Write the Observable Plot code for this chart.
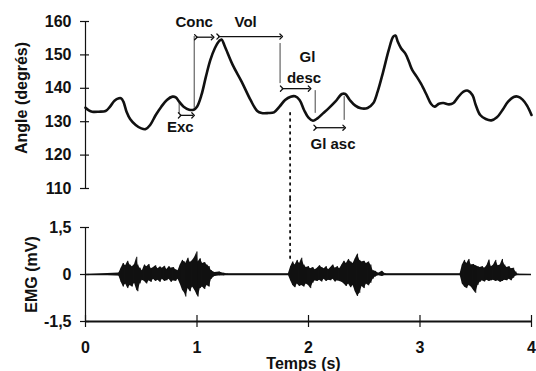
<!DOCTYPE html>
<html><head><meta charset="utf-8">
<script src="https://cdn.jsdelivr.net/npm/d3@7"></script>
<script src="https://cdn.jsdelivr.net/npm/@observablehq/plot@0.6"></script>
<style>
body{margin:0;background:#fff;}
#chart svg{display:block;}
</style></head><body><div id="chart"></div>
<script>
// Angle trace
const time = [0.00,0.03,0.06,0.12,0.18,0.22,0.26,0.30,0.32,0.34,0.37,0.40,0.45,0.50,0.54,0.58,0.63,0.68,0.73,0.78,0.81,0.84,0.88,0.93,0.97,1.00,1.04,1.08,1.12,1.16,1.20,1.22,1.25,1.32,1.40,1.48,1.54,1.58,1.64,1.69,1.74,1.79,1.84,1.88,1.92,1.96,2.00,2.04,2.08,2.13,2.18,2.24,2.30,2.33,2.37,2.42,2.47,2.53,2.58,2.62,2.67,2.72,2.76,2.78,2.80,2.83,2.87,2.90,2.93,2.97,3.01,3.06,3.10,3.13,3.17,3.21,3.26,3.30,3.34,3.39,3.43,3.47,3.50,3.54,3.59,3.64,3.69,3.74,3.79,3.84,3.88,3.92,3.96,4.00];
const angle = [134.2,133.4,133.0,133.0,133.2,134.5,136.3,137.0,137.0,136.0,132.8,130.8,129.0,128.0,127.8,129.0,132.0,134.5,136.5,137.5,137.3,136.0,134.5,133.6,133.6,134.5,138.0,143.5,148.5,152.0,154.2,154.6,152.5,147.0,142.0,136.5,133.2,132.6,132.6,132.8,134.5,136.5,137.5,137.6,136.5,133.5,131.2,130.3,131.0,132.5,134.0,136.0,138.3,138.3,136.5,134.8,134.0,134.1,135.5,139.0,145.0,151.5,155.5,155.8,154.0,152.0,150.3,148.0,145.5,143.5,141.3,138.0,135.3,134.5,135.4,135.6,135.2,135.6,137.3,139.0,139.3,138.0,135.0,132.0,130.8,130.4,131.3,133.5,136.0,137.4,137.5,136.6,134.8,132.0];

// EMG envelope (upper / lower extent of the raw signal)
const emgTime = [0.00,0.30,0.32,0.34,0.36,0.38,0.40,0.42,0.44,0.46,0.47,0.49,0.51,0.53,0.55,0.57,0.59,0.61,0.63,0.65,0.67,0.69,0.71,0.73,0.75,0.77,0.79,0.81,0.83,0.85,0.87,0.89,0.90,0.92,0.94,0.96,0.98,1.00,1.01,1.03,1.05,1.07,1.09,1.11,1.13,1.16,1.20,1.24,1.27,
 1.82,1.84,1.86,1.88,1.90,1.92,1.94,1.96,1.98,2.00,2.02,2.04,2.06,2.08,2.10,2.12,2.14,2.16,2.18,2.20,2.22,2.24,2.26,2.28,2.30,2.32,2.34,2.36,2.38,2.40,2.42,2.44,2.46,2.48,2.50,2.52,2.54,2.56,2.58,2.60,2.63,2.66,2.69,
 3.36,3.38,3.40,3.42,3.44,3.46,3.48,3.50,3.52,3.54,3.56,3.58,3.60,3.62,3.64,3.66,3.68,3.70,3.72,3.74,3.76,3.78,3.80,3.82,3.84,3.86,3.88,4.00];
const emgHigh = [0,0.05,0.20,0.35,0.28,0.42,0.30,0.25,0.32,0.55,0.30,0.20,0.12,0.30,0.25,0.32,0.18,0.22,0.28,0.18,0.24,0.20,0.26,0.16,0.25,0.20,0.22,0.15,0.12,0.30,0.45,0.40,0.35,0.52,0.38,0.45,0.55,0.72,0.40,0.50,0.35,0.38,0.30,0.25,0.12,0.06,0.08,0.04,0.02,
 0.02,0.25,0.40,0.30,0.45,0.35,0.52,0.30,0.22,0.25,0.18,0.22,0.15,0.20,0.28,0.22,0.18,0.25,0.15,0.22,0.30,0.20,0.25,0.18,0.30,0.42,0.35,0.48,0.40,0.35,0.50,0.65,0.45,0.40,0.42,0.35,0.40,0.30,0.12,0.10,0.04,0.10,0.02,
 0.02,0.30,0.45,0.35,0.48,0.30,0.32,0.28,0.25,0.22,0.25,0.20,0.28,0.46,0.25,0.30,0.45,0.28,0.30,0.48,0.30,0.22,0.25,0.18,0.20,0.08,0.01,0];
const emgLow = [0,-0.05,-0.25,-0.40,-0.30,-0.45,-0.35,-0.40,-0.28,-0.50,-0.55,-0.30,-0.18,-0.22,-0.30,-0.20,-0.25,-0.15,-0.22,-0.18,-0.25,-0.15,-0.22,-0.20,-0.15,-0.25,-0.20,-0.22,-0.15,-0.30,-0.50,-0.60,-0.72,-0.45,-0.55,-0.40,-0.50,-0.65,-0.72,-0.45,-0.40,-0.48,-0.35,-0.40,-0.15,-0.06,-0.04,-0.04,-0.02,
 -0.02,-0.20,-0.35,-0.42,-0.30,-0.38,-0.35,-0.40,-0.30,-0.35,-0.45,-0.28,-0.20,-0.22,-0.18,-0.24,-0.15,-0.22,-0.18,-0.20,-0.15,-0.24,-0.20,-0.22,-0.25,-0.30,-0.38,-0.30,-0.42,-0.35,-0.55,-0.70,-0.60,-0.38,-0.45,-0.30,-0.36,-0.28,-0.15,-0.08,-0.03,-0.06,-0.02,
 -0.02,-0.30,-0.40,-0.45,-0.35,-0.40,-0.50,-0.60,-0.35,-0.25,-0.20,-0.24,-0.18,-0.22,-0.20,-0.18,-0.22,-0.20,-0.25,-0.22,-0.18,-0.20,-0.15,-0.20,-0.12,-0.05,-0.01,0];

// Axis ticks
const angleTicks = [110,120,130,140,150,160];
const emgTicks = [-1.5,0,1.5];
const emgTickLabels = ["-1,5","0","1,5"];
const timeTicks = [0,1,2,3,4];

// Phase annotations
const labelText = ["Conc","Vol","Gl","desc","Exc","Gl asc"];
const labelTime = [0.975,1.436,1.99,1.96,0.85,2.22];
const labelAngle = [159.9,159.7,149.2,143.1,128.3,123.2];
const arrowStart = [0.845,0.99,1.19,1.76,2.06];
const arrowEnd = [0.965,1.14,1.755,2.01,2.32];
const arrowAngle = [131.9,155.3,155.5,139.9,128.2];
const markTime = [0.84,0.975,1.745,2.06,2.32];
const markLow = [132.3,134.0,141.4,132.5,130.4];
const markHigh = [135.5,155.5,153.4,139.3,137.5];
const syncTime = [1.835];
const syncAngle = [132.5, 106];
const syncEmg = [2.4, 0.4];

const font = "'Liberation Sans', Arial, sans-serif";
const ink = "#111";

const angleData = time.map((t,i)=>({t, a: angle[i]}));
const emgData = emgTime.map((t,i)=>({t, hi: emgHigh[i], lo: emgLow[i]}));
const labels = labelText.map((s,i)=>({s, t: labelTime[i], a: labelAngle[i]}));
const arrows = arrowStart.map((t,i)=>({t1: t, t2: arrowEnd[i], a: arrowAngle[i]}));
const marks = markTime.map((t,i)=>({t, lo: markLow[i], hi: markHigh[i]}));

const common = {
  width: 536, marginLeft: 85, marginRight: 5,
  style: {fontFamily: font, fontSize: "16px", fontWeight: "bold", color: ink, background: "transparent", overflow: "visible"},
  x: {domain: [0,4], axis: null}
};

const topPlot = Plot.plot({
  ...common,
  height: 200, marginTop: 21, marginBottom: 12,
  y: {domain: [110,160], axis: null},
  marks: [
    Plot.ruleX([0], {y1: 110, y2: 160, stroke: ink, strokeWidth: 1.2}),
    Plot.axisY({ticks: angleTicks, label: null, tickSize: 9, dx: 4, tickPadding: 9, strokeWidth: 1.2, fontSize: 16}),
    Plot.text(["Angle (degrés)"], {text: d=>d, frameAnchor: "left", textAnchor: "middle", rotate: -90, dx: -64, dy: -7, fontSize: 16}),
    Plot.ruleX(marks, {x: "t", y1: "lo", y2: "hi", stroke: "#444", strokeWidth: 1}),
    Plot.link(arrows, {x1: "t1", x2: "t2", y1: "a", y2: "a", stroke: ink, strokeWidth: 1.3, markerStart: "arrow", markerEnd: "arrow"}),
    Plot.text(labels, {x: "t", y: "a", text: "s", fontSize: 15}),
    Plot.ruleX(syncTime, {y1: syncAngle[0], y2: syncAngle[1], stroke: ink, strokeWidth: 1.8, strokeDasharray: "1.6,4.8", strokeLinecap: "round"}),
    Plot.line(angleData, {x: "t", y: "a", stroke: ink, strokeWidth: 2.6, curve: "catmull-rom"})
  ]
});

const bottomPlot = Plot.plot({
  ...common,
  height: 171, marginTop: 27, marginBottom: 50,
  y: {domain: [-1.5,1.5], axis: null},
  marks: [
    Plot.ruleX([0], {y1: -1.5, y2: 1.5, stroke: ink, strokeWidth: 1.2}),
    Plot.ruleY([-1.5], {stroke: ink, strokeWidth: 1.8}),
    Plot.ruleY([0], {stroke: ink, strokeWidth: 1.6}),
    Plot.areaY(emgData, {x: "t", y1: "lo", y2: "hi", fill: ink, curve: "linear"}),
    Plot.ruleX(emgData, {x: "t", y1: "lo", y2: "hi", stroke: ink, strokeWidth: 1}),
    Plot.axisY({ticks: emgTicks, label: null, tickFormat: d => emgTickLabels[emgTicks.indexOf(d)], tickSize: 9, dx: 4, tickPadding: 9, strokeWidth: 1.2, fontSize: 16}),
    Plot.axisX({ticks: timeTicks, label: null, tickFormat: d => String(d), tickSize: 12, dy: -6, tickPadding: 14, strokeWidth: 1.2, fontSize: 16}),
    Plot.text(["EMG (mV)"], {text: d=>d, frameAnchor: "left", textAnchor: "middle", rotate: -90, dx: -54, fontSize: 16}),
    Plot.text(["Temps (s)"], {text: d=>d, frameAnchor: "bottom", dy: 47, dx: -5, fontSize: 16}),
    Plot.ruleX(syncTime, {y1: syncEmg[0], y2: syncEmg[1], stroke: ink, strokeWidth: 1.8, strokeDasharray: "1.6,4.8", strokeLinecap: "round"})
  ]
});

const chart = document.getElementById("chart");
chart.appendChild(topPlot);
chart.appendChild(bottomPlot);
</script></body></html>
